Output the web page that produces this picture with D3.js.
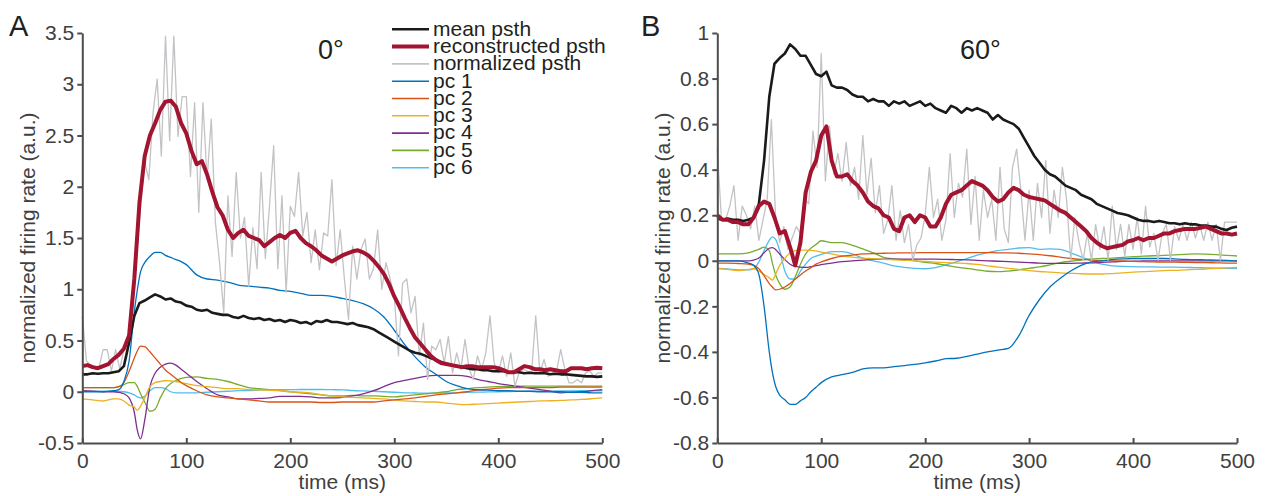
<!DOCTYPE html>
<html>
<head>
<meta charset="utf-8">
<script src="https://cdn.jsdelivr.net/npm/d3@7"></script>
<style>
  body { margin: 0; background: #fff; }
  svg  { display: block; font-family: "Liberation Sans", Arial, Helvetica, sans-serif; }
</style>
</head>
<body>
<svg id="chart" width="1267" height="496"></svg>
<script>
"use strict";

// ---- data ------------------------------------------------------------------

const xTicks  = [0, 100, 200, 300, 400, 500];
const yTicksA = [-0.5, 0, 0.5, 1, 1.5, 2, 2.5, 3, 3.5];
const yTicksB = [-0.8, -0.6, -0.4, -0.2, 0, 0.2, 0.4, 0.6, 0.8, 1];

const panelLetters = ['A', 'B'];
const panelTitles  = ['0°', '60°'];
const legendLabels = ['mean psth', 'reconstructed psth', 'normalized psth',
                      'pc 1', 'pc 2', 'pc 3', 'pc 4', 'pc 5', 'pc 6'];

// sample times (ms)
const tFine   = d3.range(0, 501, 5);   // mean + reconstructed psth
const tRaw    = d3.range(0, 501, 4);   // normalized psth bins
const tSmooth = [0, 10, 20, 30, 35, 40, 45, 50, 53, 56, 60, 65, 70, 75, 80, 85, 90, 95]
                  .concat(d3.range(100, 501, 10));   // principal components

// panel A, 0 deg
const meanA = [0.17, 0.17, 0.18, 0.175, 0.18, 0.18, 0.19, 0.2, 0.25, 0.48,
  0.74, 0.865, 0.89, 0.92, 0.95, 0.93, 0.9, 0.91, 0.88, 0.87,
  0.84, 0.83, 0.8, 0.79, 0.8, 0.77, 0.76, 0.75, 0.75, 0.73,
  0.72, 0.74, 0.72, 0.71, 0.72, 0.7, 0.71, 0.69, 0.7, 0.68,
  0.7, 0.69, 0.67, 0.68, 0.66, 0.69, 0.68, 0.7, 0.68, 0.68,
  0.67, 0.66, 0.67, 0.65, 0.64, 0.63, 0.61, 0.58, 0.55, 0.52,
  0.49, 0.46, 0.43, 0.4, 0.38, 0.37, 0.35, 0.33, 0.31, 0.29,
  0.27, 0.26, 0.25, 0.24, 0.23, 0.22, 0.22, 0.21, 0.21, 0.2,
  0.2, 0.2, 0.19, 0.19, 0.19, 0.18, 0.185, 0.18, 0.18, 0.18,
  0.17, 0.175, 0.17, 0.17, 0.165, 0.16, 0.155, 0.15, 0.15, 0.145,
  0.15];
const reconA = [0.25, 0.26, 0.24, 0.23, 0.25, 0.27, 0.32, 0.36, 0.42, 0.55,
  1.1, 1.85, 2.3, 2.5, 2.62, 2.75, 2.83, 2.84, 2.78, 2.62,
  2.52, 2.35, 2.22, 2.25, 2.12, 1.95, 1.8, 1.72, 1.58, 1.5,
  1.55, 1.58, 1.52, 1.5, 1.48, 1.42, 1.46, 1.5, 1.53, 1.5,
  1.55, 1.57, 1.5, 1.45, 1.42, 1.38, 1.33, 1.3, 1.27, 1.3,
  1.33, 1.35, 1.37, 1.38, 1.36, 1.33, 1.28, 1.22, 1.15, 1.05,
  0.93, 0.83, 0.72, 0.62, 0.53, 0.47, 0.41, 0.35, 0.31, 0.28,
  0.27, 0.26, 0.25, 0.24, 0.25, 0.25, 0.24, 0.24, 0.24, 0.24,
  0.23, 0.21, 0.19, 0.19, 0.22, 0.25, 0.24, 0.22, 0.22, 0.21,
  0.22, 0.21, 0.2, 0.2, 0.23, 0.23, 0.23, 0.22, 0.23, 0.235,
  0.23];
const normA = [0.74, 0.3, 0.26, 0.24, 0.23, 0.41, 0.41, 0.2, 0.41, 0.22,
  0.41, 0.5, 0.87, 1.3, 1.81, 2.24, 2.07, 2.72, 3.05, 2.3,
  3.47, 2.45, 3.47, 2.49, 2.88, 2.88, 2.1, 2.82, 1.75, 2.82,
  2.07, 2.66, 1.65, 1.26, 0.77, 1.91, 1.32, 2.14, 1.5, 1.7,
  1.03, 1.6, 1.2, 2.14, 1.3, 1.81, 2.4, 1.2, 1.91, 0.97,
  1.81, 1.71, 2.14, 1.52, 1.75, 1.26, 1.58, 1.19, 1.55, 1.52,
  2.07, 1.23, 1.58, 1.1, 0.705, 1.42, 1.1, 1.39, 1.49, 1.1,
  1.2, 1.58, 1.0, 1.26, 1.1, 0.93, 0.35, 1.06, 1.1, 0.77,
  0.93, 0.35, 0.67, 0.12, 0.445, 0.41, 0.51, 0.28, 0.54, 0.185,
  0.38, 0.22, 0.51, 0.22, 0.12, 0.35, 0.22, 0.38, 0.74, 0.28,
  0.185, 0.35, 0.15, 0.38, 0.055, 0.185, 0.22, 0.2, 0.185, 0.74,
  0.185, 0.315, 0.15, 0.185, 0.2, 0.41, 0.22, 0.087, 0.087, 0.12,
  0.087, 0.185, 0.2, 0.15, 0.185, 0.185];
const pc1A = [0, 0, 0, 0.01, 0.02, 0.1, 0.3, 0.78, 1.0, 1.17, 1.26, 1.32, 1.36, 1.36, 1.33, 1.31, 1.29, 1.27,
  1.24, 1.14, 1.1, 1.09, 1.07, 1.04, 1.03, 1.02, 1.01, 0.99,
  0.98, 0.96, 0.94, 0.94, 0.93, 0.91, 0.89, 0.86, 0.81, 0.73,
  0.6, 0.46, 0.34, 0.24, 0.17, 0.1, 0.06, 0.03, 0.02, 0.015,
  0.01, 0.01, 0.005, 0.005, 0, 0, 0, -0.005, -0.005, -0.01, -0.01];
const pc2A = [0.04, 0.04, 0.04, 0.04, 0.05, 0.09, 0.2, 0.33, 0.4, 0.445, 0.44, 0.39, 0.33, 0.27, 0.21, 0.17, 0.13, 0.09,
  0.06, 0.01, -0.03, -0.05, -0.06, -0.07, -0.08, -0.09, -0.1, -0.1,
  -0.1, -0.1, -0.1, -0.105, -0.105, -0.1, -0.1, -0.1, -0.1, -0.09,
  -0.08, -0.07, -0.06, -0.045, -0.03, -0.02, -0.01, 0, 0.015, 0.025,
  0.035, 0.04, 0.04, 0.04, 0.04, 0.04, 0.045, 0.045, 0.045, 0.045, 0.045];
const pc3A = [-0.07, -0.08, -0.09, -0.07, -0.07, -0.09, -0.13, -0.15, -0.18, -0.14, -0.06, 0.05, 0.09, 0.1, 0.11, 0.105, 0.1, 0.09,
  0.08, 0.06, 0.05, 0.04, 0.03, 0.03, 0.02, 0.018, 0.015, 0.01,
  0, -0.005, -0.01, -0.03, -0.04, -0.05, -0.055, -0.06, -0.065, -0.07,
  -0.08, -0.09, -0.095, -0.1, -0.1, -0.11, -0.12, -0.125, -0.12, -0.115,
  -0.11, -0.105, -0.1, -0.095, -0.09, -0.088, -0.085, -0.08, -0.075, -0.068, -0.06];
const pc4A = [0.01, 0.005, 0, 0, -0.005, -0.02, -0.06, -0.2, -0.38, -0.46, -0.28, 0.05, 0.18, 0.24, 0.27, 0.28, 0.26, 0.22,
  0.18, 0.1, 0.03, -0.03, -0.05, -0.07, -0.07, -0.065, -0.06, -0.045,
  -0.045, -0.045, -0.05, -0.06, -0.06, -0.055, -0.04, -0.02, 0.01, 0.05,
  0.09, 0.11, 0.13, 0.15, 0.16, 0.16, 0.16, 0.15, 0.12, 0.1,
  0.08, 0.065, 0.05, 0.035, 0.02, 0.005, -0.01, -0.005, 0, 0.01, 0.02];
const pc5A = [0.04, 0.04, 0.04, 0.04, 0.05, 0.07, 0.09, 0.09, 0.05, -0.02, -0.1, -0.19, -0.17, -0.06, 0.03, 0.08, 0.11, 0.13,
  0.14, 0.145, 0.13, 0.12, 0.1, 0.07, 0.04, 0.03, 0.02, 0.01,
  0, -0.01, -0.02, -0.03, -0.04, -0.04, -0.035, -0.04, -0.04, -0.045,
  -0.05, -0.04, -0.03, -0.02, -0.01, 0, 0.02, 0.03, 0.04, 0.045,
  0.05, 0.052, 0.055, 0.055, 0.055, 0.055, 0.055, 0.055, 0.055, 0.055, 0.055];
const pc6A = [0.005, 0.005, 0.005, 0.005, 0.005, 0, -0.01, -0.03, -0.05, -0.06, -0.045, 0.01, 0.04, 0.04, 0.03, 0, -0.01, -0.01,
  -0.01, -0.01, -0.005, 0, 0.005, 0.01, 0.012, 0.015, 0.018, 0.02,
  0.02, 0.022, 0.022, 0.022, 0.02, 0.018, 0.012, 0.008, 0.004, 0,
  -0.005, -0.01, -0.012, -0.014, -0.014, -0.012, -0.01, -0.007, -0.004, -0.002,
  0, 0.002, 0.004, 0.005, 0.006, 0.007, 0.008, 0.009, 0.01, 0.01, 0.01];

// panel B, 60 deg
const meanB = [0.185, 0.18, 0.185, 0.18, 0.18, 0.175, 0.18, 0.19, 0.25, 0.44,
  0.72, 0.865, 0.89, 0.91, 0.95, 0.93, 0.9, 0.9, 0.86, 0.82,
  0.81, 0.83, 0.77, 0.76, 0.76, 0.75, 0.73, 0.72, 0.72, 0.7,
  0.71, 0.7, 0.7, 0.68, 0.7, 0.69, 0.7, 0.68, 0.69, 0.7,
  0.68, 0.69, 0.67, 0.66, 0.65, 0.68, 0.67, 0.65, 0.67, 0.66,
  0.67, 0.66, 0.65, 0.62, 0.64, 0.62, 0.61, 0.6, 0.58, 0.54,
  0.5, 0.46, 0.43, 0.4, 0.38, 0.37, 0.35, 0.33, 0.32, 0.31,
  0.29, 0.28, 0.27, 0.25, 0.24, 0.23, 0.22, 0.21, 0.205, 0.2,
  0.19, 0.18, 0.175, 0.175, 0.17, 0.175, 0.17, 0.165, 0.165, 0.16,
  0.165, 0.16, 0.16, 0.155, 0.155, 0.15, 0.15, 0.14, 0.135, 0.145,
  0.15];
const reconB = [0.2, 0.18, 0.18, 0.17, 0.17, 0.16, 0.16, 0.19, 0.24, 0.26,
  0.25, 0.19, 0.12, 0.13, 0.06, -0.02, 0.08, 0.3, 0.39, 0.44,
  0.55, 0.59, 0.44, 0.37, 0.37, 0.38, 0.35, 0.33, 0.3, 0.26,
  0.24, 0.23, 0.2, 0.19, 0.14, 0.13, 0.19, 0.2, 0.17, 0.2,
  0.19, 0.15, 0.15, 0.19, 0.25, 0.29, 0.3, 0.31, 0.33, 0.35,
  0.34, 0.33, 0.31, 0.28, 0.26, 0.27, 0.3, 0.32, 0.31, 0.29,
  0.28, 0.275, 0.27, 0.265, 0.25, 0.235, 0.22, 0.21, 0.19, 0.17,
  0.15, 0.13, 0.1, 0.08, 0.065, 0.055, 0.06, 0.065, 0.07, 0.085,
  0.09, 0.1, 0.09, 0.1, 0.1, 0.11, 0.12, 0.12, 0.13, 0.135,
  0.14, 0.14, 0.14, 0.145, 0.15, 0.14, 0.13, 0.12, 0.12, 0.115,
  0.12];
const normB = [0.49, 0.18, 0.18, 0.24, 0.33, 0.09, 0.24, 0.2, 0.14, 0.24,
  0.09, 0.18, 0.27, 0.62, 0.2, 0.08, 0.15, 0.05, 0.1, 0.15,
  0.12, 0.27, 0.25, 0.57, 0.41, 0.91, 0.35, 0.59, 0.38, 0.47,
  0.35, 0.52, 0.33, 0.41, 0.27, 0.55, 0.29, 0.45, 0.21, 0.33,
  0.12, 0.18, 0.33, 0.09, 0.22, 0.08, 0.16, 0.003, 0.07, 0.1,
  0.2, 0.41, 0.19, 0.27, 0.09, 0.18, 0.47, 0.19, 0.34, 0.28,
  0.49, 0.16, 0.37, 0.09, 0.31, 0.19, 0.27, 0.09, 0.41, 0.14,
  0.08, 0.41, 0.49, 0.31, 0.09, 0.31, 0.09, 0.34, 0.19, 0.44,
  0.12, 0.31, 0.19, 0.41, 0.27, 0.003, 0.19, 0.08, 0.003, 0.12,
  0.003, 0.16, 0.05, 0.15, 0.003, 0.24, 0.05, 0.16, 0.02, 0.16,
  0.05, 0.19, 0.03, 0.24, 0.06, 0.12, 0.003, 0.12, 0.16, 0.003,
  0.15, 0.09, 0.16, 0.09, 0.17, 0.1, 0.16, 0.09, 0.17, 0.09,
  0.16, 0.003, 0.17, 0.17, 0.17, 0.17];
const pc1B = [0, 0, 0, -0.01, -0.02, -0.06, -0.2, -0.4, -0.49, -0.55, -0.59, -0.61, -0.63, -0.63, -0.615, -0.6, -0.575, -0.555,
  -0.535, -0.51, -0.5, -0.49, -0.475, -0.47, -0.47, -0.465, -0.46, -0.455,
  -0.448, -0.44, -0.43, -0.428, -0.42, -0.41, -0.4, -0.392, -0.385, -0.33,
  -0.24, -0.17, -0.115, -0.077, -0.045, -0.02, -0.005, 0, 0.005, 0.008,
  0.01, 0.01, 0.01, 0.01, 0.008, 0.006, 0.005, 0.004, 0.003, 0.002, 0];
const pc2B = [-0.01, -0.01, -0.012, -0.015, -0.02, -0.035, -0.065, -0.1, -0.115, -0.128, -0.125, -0.115, -0.1, -0.08, -0.062, -0.045, -0.03, -0.015,
  -0.005, 0.01, 0.02, 0.025, 0.03, 0.032, 0.033, 0.034, 0.035, 0.035,
  0.036, 0.036, 0.036, 0.036, 0.036, 0.036, 0.036, 0.035, 0.035, 0.033,
  0.03, 0.027, 0.022, 0.016, 0.01, 0.006, 0.003, 0.001, 0, -0.001,
  -0.003, -0.004, -0.005, -0.006, -0.006, -0.007, -0.008, -0.008, -0.009, -0.01, -0.01];
const pc3B = [-0.033, -0.038, -0.043, -0.038, -0.034, -0.045, -0.06, -0.075, -0.085, -0.06, -0.02, 0.01, 0.035, 0.045, 0.047, 0.047, 0.046, 0.043,
  0.038, 0.03, 0.022, 0.016, 0.012, 0.009, 0.006, 0.004, 0.002, 0,
  -0.003, -0.006, -0.008, -0.01, -0.012, -0.016, -0.022, -0.028, -0.033, -0.038,
  -0.043, -0.047, -0.05, -0.053, -0.055, -0.057, -0.058, -0.058, -0.056, -0.053,
  -0.05, -0.048, -0.045, -0.043, -0.042, -0.04, -0.038, -0.036, -0.033, -0.031, -0.029];
const pc4B = [0, 0, 0, 0, 0.003, 0.012, 0.035, 0.055, 0.058, 0.05, 0.03, 0.005, -0.015, -0.025, -0.028, -0.029, -0.026, -0.021,
  -0.017, -0.01, -0.004, 0, 0.003, 0.006, 0.007, 0.007, 0.007, 0.007,
  0.007, 0.007, 0.006, 0.005, 0.004, 0.002, 0, -0.002, -0.004, -0.006,
  -0.008, -0.01, -0.011, -0.011, -0.011, -0.01, -0.009, -0.007, -0.005, -0.003,
  -0.002, -0.001, 0, 0, 0, 0, 0, 0, 0, 0, 0];
const pc5B = [0.03, 0.03, 0.03, 0.035, 0.042, 0.05, 0.06, 0.045, -0.01, -0.06, -0.1, -0.125, -0.115, -0.07, -0.015, 0.03, 0.055, 0.072,
  0.088, 0.08, 0.08, 0.068, 0.052, 0.035, 0.015, 0.008, 0.005, 0,
  -0.007, -0.012, -0.02, -0.028, -0.033, -0.04, -0.046, -0.048, -0.045, -0.04,
  -0.033, -0.027, -0.018, -0.008, -0.002, 0.003, 0.008, 0.01, 0.012, 0.015,
  0.018, 0.02, 0.022, 0.024, 0.026, 0.028, 0.03, 0.029, 0.027, 0.024, 0.021];
const pc6B = [-0.034, -0.036, -0.04, -0.04, -0.035, -0.005, 0.045, 0.09, 0.105, 0.095, 0.045, -0.045, -0.08, -0.08, -0.045, -0.015, 0.01, 0.02,
  0.028, 0.04, 0.04, 0.03, 0.012, 0, -0.01, -0.022, -0.029, -0.033,
  -0.035, -0.03, -0.018, -0.005, 0.01, 0.025, 0.036, 0.045, 0.05, 0.056,
  0.058, 0.05, 0.052, 0.05, 0.035, 0.017, 0, -0.015, -0.022, -0.025,
  -0.026, -0.027, -0.027, -0.028, -0.028, -0.029, -0.03, -0.031, -0.032, -0.033, -0.034];

// ---- styles ----------------------------------------------------------------

const meanColor  = '#1a1a1a',
      reconColor = '#a2142f',
      normColor  = '#c3c3c6',
      pcColors   = ['#0072bd', '#d95319', '#edb120', '#7e2f8e', '#77ac30', '#4dbeee'];
const axisColor  = '#4d4d4d',
      textColor  = '#231f20';

const plotTop = 33, plotBottom = 443;

const panels = [
  { letter: panelLetters[0], title: panelTitles[0], xRange: [82.3, 602.3], yDomain: [-0.5, 3.5], yTicks: yTicksA,
    mean: meanA, recon: reconA, norm: normA, pcs: [pc1A, pc2A, pc3A, pc4A, pc5A, pc6A],
    letterX: 9, titleX: 318, yLabelX: 35, legend: true },
  { letter: panelLetters[1], title: panelTitles[1], xRange: [717.3, 1237], yDomain: [-0.8, 1], yTicks: yTicksB,
    mean: meanB, recon: reconB, norm: normB, pcs: [pc1B, pc2B, pc3B, pc4B, pc5B, pc6B],
    letterX: 641, titleX: 960, yLabelX: 670, legend: false }
];

// ---- drawing ---------------------------------------------------------------

const svg = d3.select('#chart');

function styleAxis(g) {
  g.attr('font-family', null).attr('font-size', 21);
  g.select('.domain').attr('stroke', axisColor).attr('stroke-width', 2);
  g.selectAll('.tick line').attr('stroke', axisColor).attr('stroke-width', 2);
  g.selectAll('.tick text').attr('fill', '#404040');
}

function drawPanel(p) {

  // scales
  const x = d3.scaleLinear().domain([0, 500]).range(p.xRange),
        y = d3.scaleLinear().domain(p.yDomain).range([plotBottom, plotTop]);

  const g = svg.append('g').attr('class', 'panel');

  // line generator for a value array on a given time grid
  const lineOn = (times, curve) => d3.line()
      .x((d, i) => x(times[i]))
      .y((d) => y(d))
      .curve(curve || d3.curveLinear);

  // principal components
  p.pcs.slice().reverse().forEach((vals, k) => {
    g.append('path')
        .datum(vals)
        .attr('fill', 'none')
        .attr('stroke', pcColors[p.pcs.length - 1 - k])
        .attr('stroke-width', 1.3)
        .attr('d', lineOn(tSmooth, d3.curveMonotoneX));
  });

  // normalized psth
  g.append('path')
      .datum(p.norm)
      .attr('fill', 'none')
      .attr('stroke', normColor)
      .attr('stroke-width', 1.3)
      .attr('stroke-linejoin', 'round')
      .attr('d', lineOn(tRaw));

  // mean psth
  g.append('path')
      .datum(p.mean)
      .attr('fill', 'none')
      .attr('stroke', meanColor)
      .attr('stroke-width', 2.6)
      .attr('stroke-linejoin', 'round')
      .attr('d', lineOn(tFine));

  // reconstructed psth
  g.append('path')
      .datum(p.recon)
      .attr('fill', 'none')
      .attr('stroke', reconColor)
      .attr('stroke-width', 4)
      .attr('stroke-linejoin', 'round')
      .attr('d', lineOn(tFine));

  // y-axis
  g.append('g')
      .attr('transform', 'translate(' + p.xRange[0] + ',0)')
      .call(d3.axisLeft(y).tickValues(p.yTicks).tickFormat((d) => String(d))
              .tickSizeInner(5).tickSizeOuter(0).tickPadding(3))
      .call(styleAxis);

  // x-axis (ticks point inwards)
  g.append('g')
      .attr('transform', 'translate(0,' + plotBottom + ')')
      .call(d3.axisBottom(x).tickValues(xTicks)
              .tickSizeInner(-5).tickSizeOuter(0).tickPadding(10))
      .call(styleAxis);

  // axis titles
  g.append('text')
      .attr('x', (p.xRange[0] + p.xRange[1]) / 2)
      .attr('y', 489)
      .attr('text-anchor', 'middle')
      .attr('font-size', 21)
      .attr('fill', '#404040')
      .text('time (ms)');

  g.append('text')
      .attr('transform', 'translate(' + p.yLabelX + ',' + (plotTop + plotBottom) / 2 + ') rotate(-90)')
      .attr('text-anchor', 'middle')
      .attr('font-size', 21)
      .attr('fill', '#404040')
      .text('normalized firing rate (a.u.)');

  // panel letter and condition
  g.append('text')
      .attr('x', p.letterX)
      .attr('y', 36)
      .attr('font-size', 29)
      .attr('fill', textColor)
      .text(p.letter);

  g.append('text')
      .attr('x', p.titleX)
      .attr('y', 59)
      .attr('font-size', 27)
      .attr('fill', textColor)
      .text(p.title);

  if (p.legend) drawLegend(g);
}

function drawLegend(g) {
  const colors = [meanColor, reconColor, normColor].concat(pcColors),
        widths = [2.6, 4, 1.6, 1.6, 1.6, 1.6, 1.6, 1.6, 1.6];

  const rows = g.append('g')
      .attr('class', 'legend')
    .selectAll('g')
      .data(legendLabels)
    .enter().append('g')
      .attr('transform', (d, i) => 'translate(392,' + (29.3 + i * 17.3) + ')');

  rows.append('line')
      .attr('x1', 0).attr('x2', 37)
      .attr('stroke', (d, i) => colors[i])
      .attr('stroke-width', (d, i) => widths[i]);

  rows.append('text')
      .attr('x', 41)
      .attr('dy', '0.3em')
      .attr('font-size', 21)
      .attr('fill', textColor)
      .text((d) => d);
}

panels.forEach(drawPanel);
</script>
</body>
</html>
